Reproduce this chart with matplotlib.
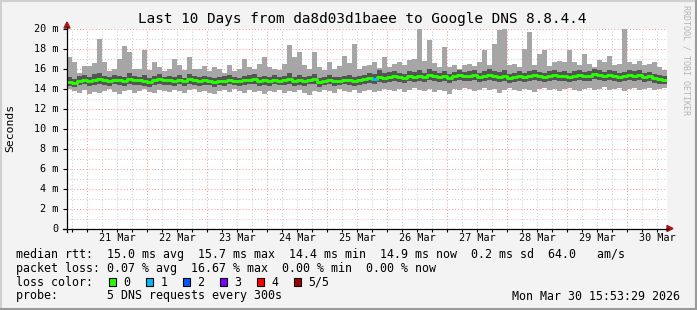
import matplotlib
matplotlib.use('Agg')
import matplotlib.pyplot as plt
import numpy as np
from matplotlib.patches import Rectangle, Polygon
from matplotlib.lines import Line2D

# ---------------- data (ms, one value per 2-hour bin, 120 bins over 10 days) ----------------
median = [14.7,14.6,14.8,14.9,14.8,14.9,15.0,14.9,14.8,14.9,14.9,14.8,15.0,14.9,14.9,14.8,14.7,14.9,15.0,14.9,
          14.9,14.8,14.9,14.8,15.0,14.9,14.8,14.9,14.8,14.7,14.8,14.8,14.9,14.8,14.8,14.9,14.9,15.0,14.8,14.9,
          14.8,14.9,14.8,14.9,15.0,14.8,14.9,14.8,14.9,15.0,14.7,14.8,14.9,14.8,14.8,14.9,14.9,14.8,14.9,15.0,
          15.1,15.0,15.2,15.1,15.2,15.3,15.2,15.1,15.3,15.2,15.3,15.2,15.4,15.3,15.2,15.3,15.1,15.3,15.4,15.3,
          15.3,15.4,15.2,15.3,15.4,15.3,15.2,15.3,15.1,15.2,15.3,15.2,15.3,15.4,15.3,15.2,15.3,15.4,15.3,15.3,
          15.2,15.3,15.4,15.3,15.3,15.5,15.4,15.3,15.4,15.3,15.2,15.3,15.4,15.3,15.4,15.2,15.3,15.1,15.0,14.9]
smoke_hi = [17.1,16.6,15.6,16.3,16.3,16.5,19.0,16.6,15.8,16.0,17.0,18.3,17.6,16.0,15.9,17.8,15.8,16.6,16.1,15.8,
            16.0,17.0,16.4,15.8,17.1,16.0,15.9,16.3,15.7,16.1,15.9,15.6,16.4,15.8,15.9,17.0,16.2,15.9,16.5,17.2,
            16.2,16.0,15.9,16.5,18.4,17.1,17.6,16.4,16.0,17.6,16.1,15.9,16.6,16.0,16.3,17.3,16.5,18.5,16.0,16.3,
            16.4,16.6,16.1,17.1,16.2,16.5,16.6,16.3,16.9,17.0,20.0,16.8,18.8,16.5,16.1,18.1,16.2,16.4,16.0,16.3,
            16.5,16.3,16.6,17.8,16.4,18.5,19.8,20.0,16.3,16.5,16.2,18.0,19.6,16.4,17.5,17.8,16.3,16.6,16.8,16.7,
            17.8,16.6,16.4,17.5,16.5,16.2,16.8,16.6,17.3,16.4,16.5,20.0,16.7,16.5,16.8,16.4,16.5,16.6,16.2,15.8]
smoke_lo = [14.0,13.8,13.6,13.9,13.5,13.7,13.6,13.8,14.0,13.7,13.5,13.8,13.9,13.6,13.8,14.0,13.7,13.6,13.9,13.8,
            13.7,13.9,13.8,13.6,13.9,14.0,13.7,13.8,13.6,13.5,13.8,13.9,13.7,14.0,13.8,13.6,13.9,13.7,13.8,13.5,
            13.8,13.7,13.9,13.6,13.8,13.7,13.9,13.6,13.4,13.8,13.7,13.9,13.8,13.6,14.0,13.8,13.7,13.9,13.6,13.8,
            13.9,13.7,13.8,14.0,13.9,13.8,14.0,13.7,13.9,14.1,13.9,13.8,14.0,13.7,13.9,13.8,13.5,14.0,13.9,14.1,
            14.0,13.8,13.9,14.1,13.9,14.0,13.6,13.9,14.1,13.9,13.8,14.0,13.9,13.7,14.0,14.1,13.9,14.0,13.8,14.0,
            14.1,13.9,13.8,14.0,14.1,13.9,14.0,14.2,13.9,14.0,14.1,13.8,14.0,14.1,13.9,14.0,14.1,13.9,14.0,14.1]
dark_lo = [14.3,14.2,14.4,14.5,14.3,14.4,14.5,14.4,14.3,14.5,14.4,14.3,14.5,14.4,14.4,14.3,14.2,14.4,14.5,14.4,
           14.4,14.3,14.5,14.3,14.5,14.4,14.3,14.4,14.4,14.2,14.4,14.3,14.5,14.4,14.3,14.4,14.5,14.5,14.3,14.4,
           14.3,14.5,14.4,14.4,14.5,14.3,14.4,14.3,14.5,14.5,14.2,14.4,14.5,14.3,14.4,14.5,14.4,14.3,14.4,14.5,
           14.6,14.5,14.7,14.6,14.7,14.8,14.7,14.6,14.8,14.7,14.8,14.7,14.9,14.8,14.7,14.8,14.6,14.8,14.9,14.8,
           14.8,14.9,14.7,14.8,14.9,14.8,14.7,14.8,14.6,14.7,14.8,14.7,14.8,14.9,14.8,14.7,14.8,14.9,14.8,14.8,
           14.7,14.8,14.9,14.8,14.8,15.0,14.9,14.8,14.9,14.8,14.7,14.8,14.9,14.8,14.9,14.7,14.8,14.6,14.5,14.5]
dark_hi = [15.2,15.0,15.3,15.4,15.2,15.5,15.6,15.3,15.2,15.4,15.3,15.2,15.6,15.3,15.2,15.4,15.1,15.3,15.5,15.2,
           15.3,15.2,15.4,15.1,15.5,15.3,15.2,15.3,15.2,15.1,15.2,15.3,15.4,15.2,15.1,15.3,15.4,15.5,15.2,15.3,
           15.2,15.4,15.2,15.3,15.6,15.2,15.4,15.2,15.3,15.5,15.1,15.2,15.4,15.2,15.2,15.3,15.4,15.2,15.3,15.4,
           15.6,15.5,15.8,15.6,15.7,15.8,15.6,15.5,15.8,15.7,15.9,15.6,16.0,15.8,15.6,15.8,15.5,15.7,15.9,15.7,
           15.8,15.9,15.6,15.8,16.0,15.8,15.7,15.9,15.5,15.6,15.8,15.6,15.8,15.9,15.7,15.6,15.8,15.9,15.7,15.8,
           15.6,15.8,15.9,15.7,15.8,16.0,15.9,15.7,15.9,15.8,15.6,15.7,15.9,15.8,15.9,15.6,15.7,15.5,15.4,15.3]
loss = [0]*120
loss[61] = 1

day_labels = ["21 Mar", "22 Mar", "23 Mar", "24 Mar", "25 Mar", "26 Mar", "27 Mar", "28 Mar", "29 Mar", "30 Mar"]
y_ticks = [0, 2, 4, 6, 8, 10, 12, 14, 16, 18, 20]
y_labels = ["0", "2 m", "4 m", "6 m", "8 m", "10 m", "12 m", "14 m", "16 m", "18 m", "20 m"]
loss_levels = ["0", "1", "2", "3", "4", "5/5"]
loss_colors = ["#26ff00", "#00b8ff", "#0059ff", "#7e00ff", "#ff0000", "#a00000"]

title = "Last 10 Days from da8d03d1baee to Google DNS 8.8.4.4"
row_rtt = "median rtt:  15.0 ms avg  15.7 ms max  14.4 ms min  14.9 ms now  0.2 ms sd  64.0   am/s"
row_loss = "packet loss: 0.07 % avg  16.67 % max  0.00 % min  0.00 % now"
row_probe = "probe:       5 DNS requests every 300s"
date_str = "Mon Mar 30 15:53:29 2026"

# ---------------- layout ----------------
W, H = 697, 310
MONO = "DejaVu Sans Mono"
def fx(x): return x / W
def fy(y): return 1 - y / H

fig = plt.figure(figsize=(W / 100, H / 100), dpi=100, facecolor="#f3f3f3")
ax = fig.add_axes([fx(67), fy(228.5), 600 / W, 200 / H])
ax.set_facecolor("white")
ax.set_xlim(0, 240)
ax.set_ylim(0, 20)
for s in ax.spines.values():
    s.set_visible(False)

n = len(median)
edges = np.arange(n) * 2.0
lo = np.array(smoke_lo); hi = np.array(smoke_hi)
dlo = np.array(dark_lo); dhi = np.array(dark_hi)
med = np.array(median)

ax.bar(edges, hi - lo, width=2, bottom=lo, align="edge", color="#a6a6a6", linewidth=0, zorder=2)
ax.bar(edges, dhi - dlo, width=2, bottom=dlo, align="edge", color="#555555", linewidth=0, zorder=3)
ax.step(np.append(edges, 240), np.append(med, med[-1]), where="post", color=loss_colors[0], lw=2.1, zorder=4)
for i in range(n):
    if loss[i] > 0:
        ax.hlines(med[i], edges[i], edges[i] + 2, color=loss_colors[loss[i]], lw=2.1, zorder=5)

# time axis: start = Mar 20 15:53:29, first midnight after 8.108 h
first_mid = 24 - (15 + 53 / 60 + 29 / 3600)
mids = [first_mid + 24 * k for k in range(10)]
six = [first_mid - 6 + 6 * k for k in range(41) if 0 <= first_mid - 6 + 6 * k <= 240]
ax.set_xticks(mids)
ax.set_xticklabels([])
ax.set_xticks(six, minor=True)
minor_labels = []
for t in six:
    k = round((t - first_mid - 12) / 24)
    if abs(t - (first_mid + 12 + 24 * k)) < 1e-6 and 0 <= k < len(day_labels):
        minor_labels.append(day_labels[k])
    else:
        minor_labels.append("")
ax.set_xticklabels(minor_labels, minor=True)

ax.set_yticks(y_ticks)
ax.set_yticklabels(y_labels)
ax.set_yticks(np.arange(0, 21, 1), minor=True)

ax.tick_params(axis="x", which="both", length=2, width=0.8, color="black", pad=1.2,
               labelsize=7.3, labelfontfamily=MONO)
ax.tick_params(axis="y", which="major", length=3, width=0.8, color="black", pad=3,
               labelsize=7.3, labelfontfamily=MONO)
ax.tick_params(axis="y", which="minor", length=0)

ax.set_axisbelow(True)
ax.grid(which="major", color="#ff9a9a", linestyle=(0, (1, 2)), lw=0.75)
ax.grid(which="minor", color="#cfcfcf", linestyle=(0, (1, 2)), lw=0.75)

# axis lines with arrows
fig.add_artist(Line2D([fx(63), fx(668)], [fy(228.5), fy(228.5)], color="black", lw=0.9))
fig.add_artist(Line2D([fx(67), fx(67)], [fy(232), fy(27)], color="black", lw=0.9))
arrow_col = "#a01818"
fig.add_artist(Polygon([(fx(667), fy(225.5)), (fx(673), fy(228.5)), (fx(667), fy(231.5))],
                       closed=True, color=arrow_col, transform=fig.transFigure))
fig.add_artist(Polygon([(fx(64), fy(28)), (fx(67), fy(22)), (fx(70), fy(28))],
                       closed=True, color=arrow_col, transform=fig.transFigure))

# texts
fig.text(fx(362), fy(19.5), title, ha="center", va="center", fontsize=10.4, family=MONO)
fig.text(fx(10), fy(128), "Seconds", rotation=90, ha="center", va="center", fontsize=8.2, family=MONO)
fig.text(fx(686), fy(60), "RRDTOOL / TOBI OETIKER", rotation=270, ha="center", va="center",
         fontsize=6.0, family=MONO, color="#b4b4b4")

LS = 8.4
fig.text(fx(16), fy(254.5), row_rtt, ha="left", va="center", fontsize=LS, family=MONO)
fig.text(fx(16), fy(268.5), row_loss, ha="left", va="center", fontsize=LS, family=MONO)
fig.text(fx(16), fy(282), "loss color:", ha="left", va="center", fontsize=LS, family=MONO)
fig.text(fx(16), fy(296), row_probe, ha="left", va="center", fontsize=LS, family=MONO)
fig.text(fx(680), fy(296), date_str, ha="right", va="center", fontsize=LS, family=MONO)

box_x = [108.5, 145.5, 182.5, 219.5, 256.5, 293.5]
for bx, lab, col in zip(box_x, loss_levels, loss_colors):
    fig.add_artist(Rectangle((fx(bx), fy(285.5)), 7.5 / W, 8 / H, facecolor=col,
                             edgecolor="black", lw=0.8, transform=fig.transFigure))
    fig.text(fx(bx + 15), fy(282), lab, ha="left", va="center", fontsize=LS, family=MONO)

# canvas border
fig.add_artist(Line2D([0, 1], [fy(0.5), fy(0.5)], color="#d0d0d0", lw=1.5))
fig.add_artist(Line2D([fx(0.5), fx(0.5)], [0, 1], color="#d0d0d0", lw=1.5))
fig.add_artist(Line2D([0, 1], [fy(309), fy(309)], color="#9a9a9a", lw=1.5))
fig.add_artist(Line2D([fx(696), fx(696)], [0, 1], color="#9a9a9a", lw=1.5))

fig.savefig("out.png", dpi=100, facecolor=fig.get_facecolor())
